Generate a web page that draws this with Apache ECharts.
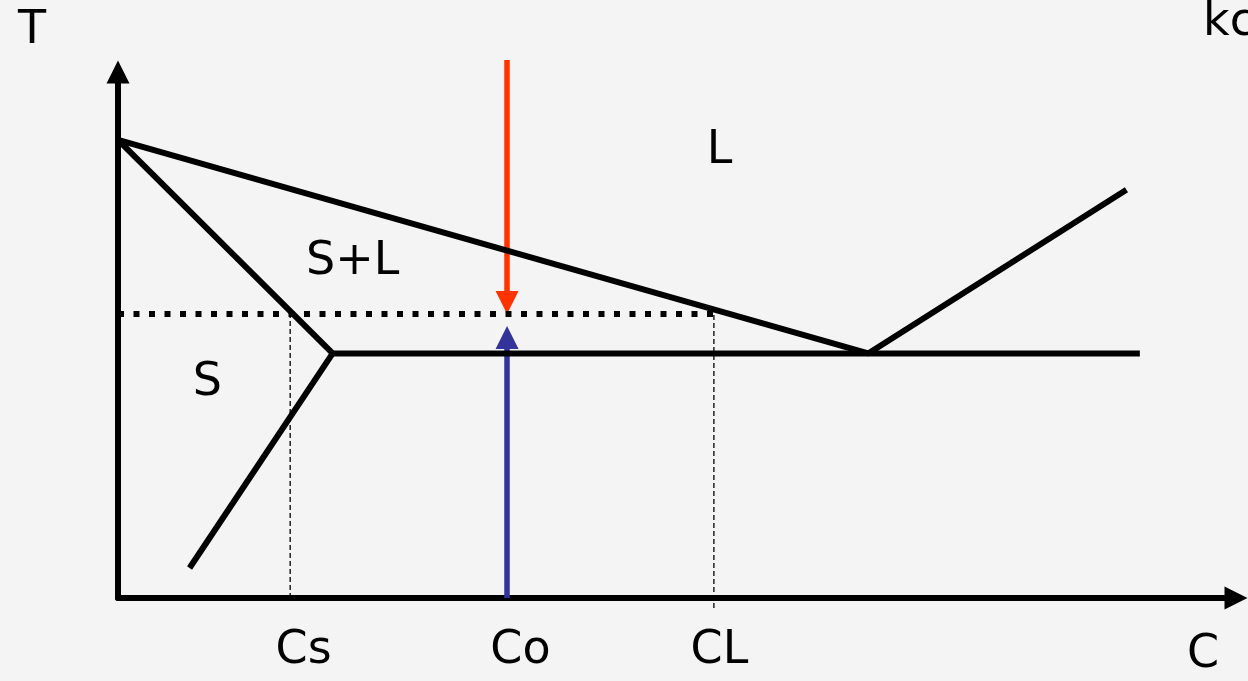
<!DOCTYPE html>
<html>
<head>
<meta charset="utf-8">
<script src="https://cdn.jsdelivr.net/npm/echarts@6/dist/echarts.min.js"></script>
<style>
  html, body { margin: 0; padding: 0; background: #f4f4f4; }
  #chart { width: 1248px; height: 681px; }
</style>
</head>
<body>
<div id="chart"></div>
<script>
// phase diagram values: C (composition) and T, both on 0..100 axes
const liquidus = [[0, 87.1], [67.1, 46.5], [90.2, 77.6]]
const solidus = [[0, 87.1], [19.2, 46.5], [6.4, 5.7]]
const eutectic = [[19.2, 46.5], [91.4, 46.5]]
const tieLine = [[0, 54.0], [53.4, 54.0]]
const csLine = [[15.4, 0], [15.4, 54.0]]
const clLine = [[53.3, -1.9], [53.3, 54.0]]
const coolArrow = [[34.8, 102.3], [34.8, 54.0]]   // red, coming down
const solidArrow = [[34.8, 0], [34.8, 51.7]]      // blue, coming up

const compNames = ['Cs', 'Co', 'CL']
const compLabelX = [16.6, 36.0, 53.8]
const compLabelY = -10.1
const phaseNames = ['L', 'S+L', 'S']
const phasePos = [[53.8, 85.0], [21.0, 63.9], [8.0, 40.9]]

const grid = { left: 118, right: 12, top: 72, bottom: 83 }
const pxPerT = (681 - grid.top - grid.bottom) / 100
const headPx = 23
const lineW = 6
const font = '"DejaVu Sans", sans-serif'
const fontSize = 46

// pull the arrow line back so the head's tip lands on the value
function arrowData (pts) {
  const [a, b] = pts
  const dir = Math.sign(b[1] - a[1])
  return [{ coords: [a, [b[0], b[1] - dir * headPx / 2 / pxPerT]] }]
}

function polyline (data, style) {
  return {
    type: 'line', data, symbol: 'none', clip: false, silent: true,
    lineStyle: Object.assign({ color: '#000', width: lineW }, style)
  }
}

function arrow (pts, color) {
  return {
    type: 'lines', coordinateSystem: 'cartesian2d', silent: true, clip: false,
    symbol: ['none', 'triangle'], symbolSize: [headPx, headPx],
    lineStyle: { color, width: 5.5, opacity: 1, curveness: 0 },
    data: arrowData(pts)
  }
}

const labelData = phaseNames.map((n, i) => ({ name: n, value: phasePos[i] }))
  .concat(compNames.map((n, i) => ({ name: n, value: [compLabelX[i], compLabelY] })))

const axisLine = {
  show: true, onZero: false,
  symbol: ['none', 'triangle'], symbolSize: [headPx, headPx],
  lineStyle: { color: '#000', width: lineW }
}

const chart = echarts.init(document.getElementById('chart'))
chart.setOption({
  backgroundColor: '#f4f4f4',
  animation: false,
  grid,
  xAxis: {
    type: 'value', min: 0, max: 100, axisLine,
    axisTick: { show: false }, axisLabel: { show: false }, splitLine: { show: false }
  },
  yAxis: {
    type: 'value', min: 0, max: 100, axisLine,
    axisTick: { show: false }, axisLabel: { show: false }, splitLine: { show: false }
  },
  series: [
    polyline(liquidus),
    polyline(solidus),
    polyline(eutectic),
    polyline(tieLine, { width: 6, type: [6, 9.5] }),
    polyline(csLine, { width: 1.3, type: [5, 3] }),
    polyline(clLine, { width: 1.3, type: [5, 3] }),
    arrow(coolArrow, '#ff3300'),
    arrow(solidArrow, '#333399'),
    {
      type: 'scatter', symbolSize: 0, clip: false, silent: true,
      itemStyle: { opacity: 1 },
      data: labelData,
      label: {
        show: true, position: 'inside', formatter: '{b}', opacity: 1,
        color: '#000', fontSize, fontFamily: font
      }
    }
  ],
  graphic: [
    { type: 'text', left: 18, top: 8, style: { text: 'T', fontSize, fontFamily: font, fill: '#000' } },
    { type: 'text', left: 1203, top: 0, style: { text: 'kc', fontSize, fontFamily: font, fill: '#000' } },
    { type: 'text', left: 1187, top: 632, style: { text: 'C', fontSize, fontFamily: font, fill: '#000' } }
  ]
})
</script>
</body>
</html>
